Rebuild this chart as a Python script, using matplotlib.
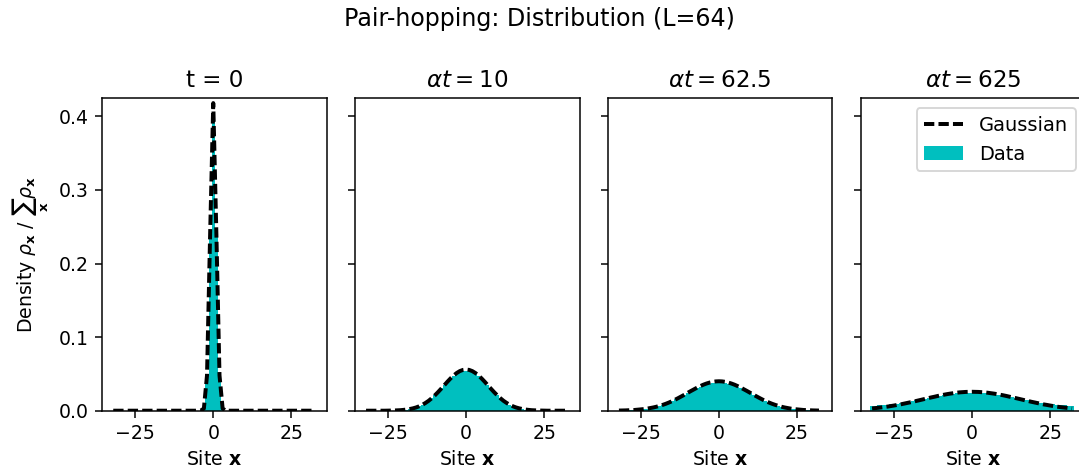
import numpy as np
import matplotlib
matplotlib.use("Agg")
import matplotlib.pyplot as plt

# ---- data ----
L = 64
sites = np.arange(-32, 33)          # lattice sites x
titles = ["t = 0", r"$\alpha t = 10$", r"$\alpha t = 62.5$", r"$\alpha t = 625$"]
xticks = [-25, 0, 25]
yticks = [0.0, 0.1, 0.2, 0.3, 0.4]

# profiles read at |x| = 0, 1, 2, ..., 32 (distributions are symmetric)
data_t0 = [0.405, 0.245, 0.050, 0.004] + [0.0] * 29
gauss_t0 = [0.418, 0.240, 0.048, 0.003] + [0.0] * 29

data_t10 = [0.0540, 0.0535, 0.0520, 0.0500, 0.0470, 0.0435, 0.0395, 0.0350, 0.0305,
            0.0260, 0.0215, 0.0175, 0.0140, 0.0110, 0.0083, 0.0060, 0.0042, 0.0028,
            0.0018, 0.0011, 0.0007, 0.0004, 0.0002] + [0.0] * 10
gauss_t10 = [0.0560, 0.0554, 0.0538, 0.0512, 0.0478, 0.0437, 0.0392, 0.0344, 0.0297,
             0.0251, 0.0208, 0.0169, 0.0134, 0.0105, 0.0080, 0.0060, 0.0044, 0.0032,
             0.0023, 0.0016, 0.0011, 0.0007, 0.0005, 0.0003, 0.0002, 0.0001] + [0.0] * 7

data_t62 = [0.0375, 0.0374, 0.0370, 0.0363, 0.0353, 0.0340, 0.0324, 0.0306, 0.0286,
            0.0265, 0.0243, 0.0220, 0.0197, 0.0175, 0.0153, 0.0133, 0.0114, 0.0096,
            0.0080, 0.0066, 0.0053, 0.0042, 0.0033, 0.0025, 0.0019, 0.0014, 0.0010,
            0.0007, 0.0005, 0.0003, 0.0002, 0.0001, 0.0001]
gauss_t62 = [0.0400, 0.0398, 0.0392, 0.0382, 0.0369, 0.0353, 0.0334, 0.0313, 0.0290,
             0.0267, 0.0243, 0.0218, 0.0195, 0.0172, 0.0150, 0.0130, 0.0111, 0.0094,
             0.0079, 0.0066, 0.0054, 0.0044, 0.0036, 0.0028, 0.0022, 0.0018, 0.0014,
             0.0010, 0.0008, 0.0006, 0.0004, 0.0003, 0.0002]

data_t625 = [0.0245, 0.0245, 0.0244, 0.0242, 0.0239, 0.0235, 0.0231, 0.0226, 0.0220,
             0.0213, 0.0206, 0.0198, 0.0190, 0.0182, 0.0174, 0.0165, 0.0157, 0.0148,
             0.0140, 0.0132, 0.0124, 0.0117, 0.0110, 0.0103, 0.0097, 0.0091, 0.0086,
             0.0082, 0.0078, 0.0075, 0.0072, 0.0070, 0.0069]
gauss_t625 = [0.0257, 0.0256, 0.0255, 0.0252, 0.0249, 0.0244, 0.0238, 0.0232, 0.0225,
              0.0217, 0.0209, 0.0200, 0.0190, 0.0181, 0.0171, 0.0161, 0.0151, 0.0141,
              0.0131, 0.0121, 0.0112, 0.0103, 0.0094, 0.0085, 0.0078, 0.0070, 0.0063,
              0.0056, 0.0050, 0.0045, 0.0040, 0.0035, 0.0031]

data_half = [data_t0, data_t10, data_t62, data_t625]
gauss_half = [gauss_t0, gauss_t10, gauss_t62, gauss_t625]


def full(half):
    h = np.asarray(half, dtype=float)
    return np.concatenate([h[:0:-1], h])


# ---- figure ----
W, H, DPI = 1079, 468, 136
fig = plt.figure(figsize=(W / DPI, H / DPI), dpi=DPI)

lefts = [102, 354.8, 607.7, 860.8]
aw, ah, ab = 224.7, 312.4, 57.3
axs = []
for i, l in enumerate(lefts):
    rect = [l / W, ab / H, aw / W, ah / H]
    if i == 0:
        ax = fig.add_axes(rect)
    else:
        ax = fig.add_axes(rect, sharey=axs[0])
        ax.tick_params(labelleft=False)
    axs.append(ax)

for i, ax in enumerate(axs):
    ax.bar(sites, full(data_half[i]), width=1.0, color="c", linewidth=0, label="Data")
    ax.plot(sites, full(gauss_half[i]), color="k", lw=2.1, linestyle="--",
            dashes=(2.6, 1.05), label="Gaussian")
    ax.set_title(titles[i], fontsize=12.2)
    ax.set_xticks(xticks)
    ax.set_xlim(-35.6, 36.3)
    ax.set_xlabel(r"Site $\mathbf{x}$")

axs[0].set_ylim(0, 0.4245)
axs[0].set_yticks(yticks)
axs[0].set_ylabel(r"Density $\rho_{\mathbf{x}}$ / $\sum_{\mathbf{x}}\rho_{\mathbf{x}}$")
axs[3].legend(loc="upper right", fontsize=10.3)

fig.suptitle("Pair-hopping: Distribution (L=64)", fontsize=12.6, y=1 - 19 / H, va="center")

fig.savefig("out.png", dpi=DPI)
